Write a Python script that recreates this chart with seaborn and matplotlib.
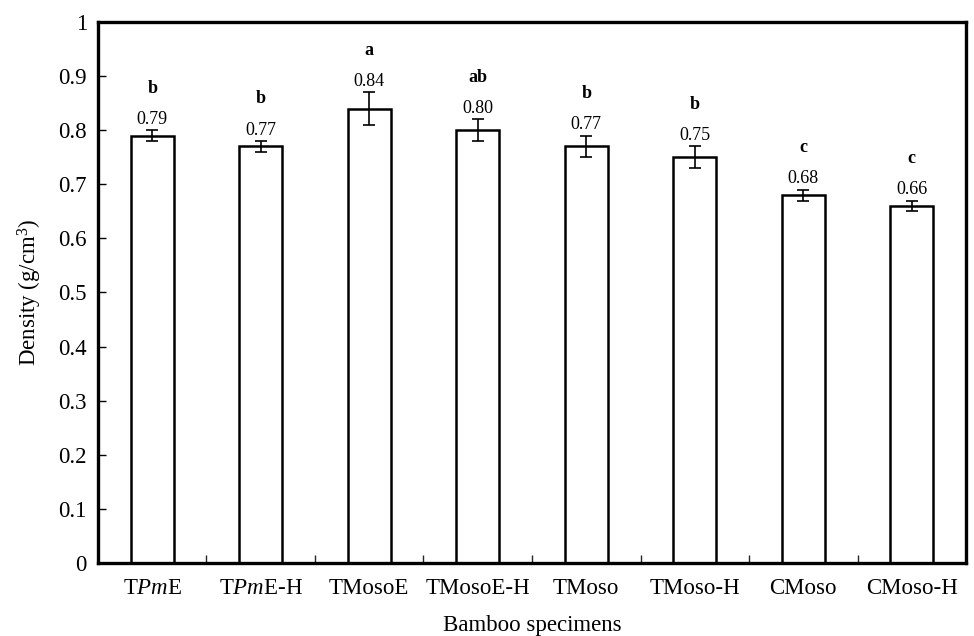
import matplotlib
matplotlib.use("Agg")
import matplotlib.pyplot as plt
import seaborn as sns
import pandas as pd
import numpy as np
from matplotlib.ticker import FixedLocator

categories = ["TPmE", "TPmE-H", "TMosoE", "TMosoE-H", "TMoso", "TMoso-H", "CMoso", "CMoso-H"]
tick_labels = [r"T$\mathit{Pm}$E", r"T$\mathit{Pm}$E-H", "TMosoE", "TMosoE-H",
               "TMoso", "TMoso-H", "CMoso", "CMoso-H"]
density = [0.79, 0.77, 0.84, 0.80, 0.77, 0.75, 0.68, 0.66]
errors = [0.01, 0.01, 0.03, 0.02, 0.02, 0.02, 0.01, 0.01]
letters = ["b", "b", "a", "ab", "b", "b", "c", "c"]
y_ticks = [0, 0.1, 0.2, 0.3, 0.4, 0.5, 0.6, 0.7, 0.8, 0.9, 1.0]
y_tick_labels = ["0", "0.1", "0.2", "0.3", "0.4", "0.5", "0.6", "0.7", "0.8", "0.9", "1"]

sns.set_theme(style="white")
plt.rcParams["font.family"] = ["Liberation Serif", "DejaVu Serif"]
plt.rcParams["mathtext.fontset"] = "custom"
plt.rcParams["mathtext.rm"] = "Liberation Serif"
plt.rcParams["mathtext.it"] = "Liberation Serif:italic"
plt.rcParams["mathtext.bf"] = "Liberation Serif:bold"

df = pd.DataFrame({"specimen": categories, "density": density})

fig = plt.figure(figsize=(9.74, 6.36), dpi=100)
ax = fig.add_axes([0.1006, 0.1148, 0.8912, 0.8506])

sns.barplot(data=df, x="specimen", y="density", order=categories, color="white",
            edgecolor="black", linewidth=1.8, width=0.4, errorbar=None, ax=ax)
for p in ax.patches:
    p.set_facecolor("white")

xpos = np.arange(len(categories))
ax.errorbar(xpos, density, yerr=errors, fmt="none", ecolor="black",
            elinewidth=1.2, capsize=4, capthick=1.2, zorder=5)

for x, v, e, l in zip(xpos, density, errors, letters):
    ly = v + max(0.03, e + 0.02)
    ax.text(x, ly, f"{v:.2f}", ha="center", va="center", fontsize=13, color="black")
    ax.text(x, ly + 0.058, l, ha="center", va="center", fontsize=13,
            fontweight="bold", color="black")

ax.set_ylim(0, 1)
ax.set_xlim(-0.5, len(categories) - 0.5)
ax.set_yticks(y_ticks)
ax.set_yticklabels(y_tick_labels)
ax.set_xticks(xpos)
ax.set_xticklabels(tick_labels)
ax.xaxis.set_minor_locator(FixedLocator(np.arange(-0.5, len(categories), 1.0)))
ax.tick_params(axis="x", which="major", length=0, pad=11, labelsize=16.5, colors="black")
ax.tick_params(axis="x", which="minor", length=6, width=1, direction="in", bottom=True)
ax.tick_params(axis="y", which="major", length=6, width=1, direction="in", left=True,
               labelsize=16.5, pad=8, colors="black")

for s in ax.spines.values():
    s.set_visible(True)
    s.set_color("black")
    s.set_linewidth(2.4)

ax.set_xlabel("Bamboo specimens", fontsize=16.5, color="black", labelpad=11)
ax.set_ylabel(r"Density (g/cm$^3$)", fontsize=16.5, color="black", labelpad=10)

fig.savefig("out.png", dpi=100, facecolor="white")
